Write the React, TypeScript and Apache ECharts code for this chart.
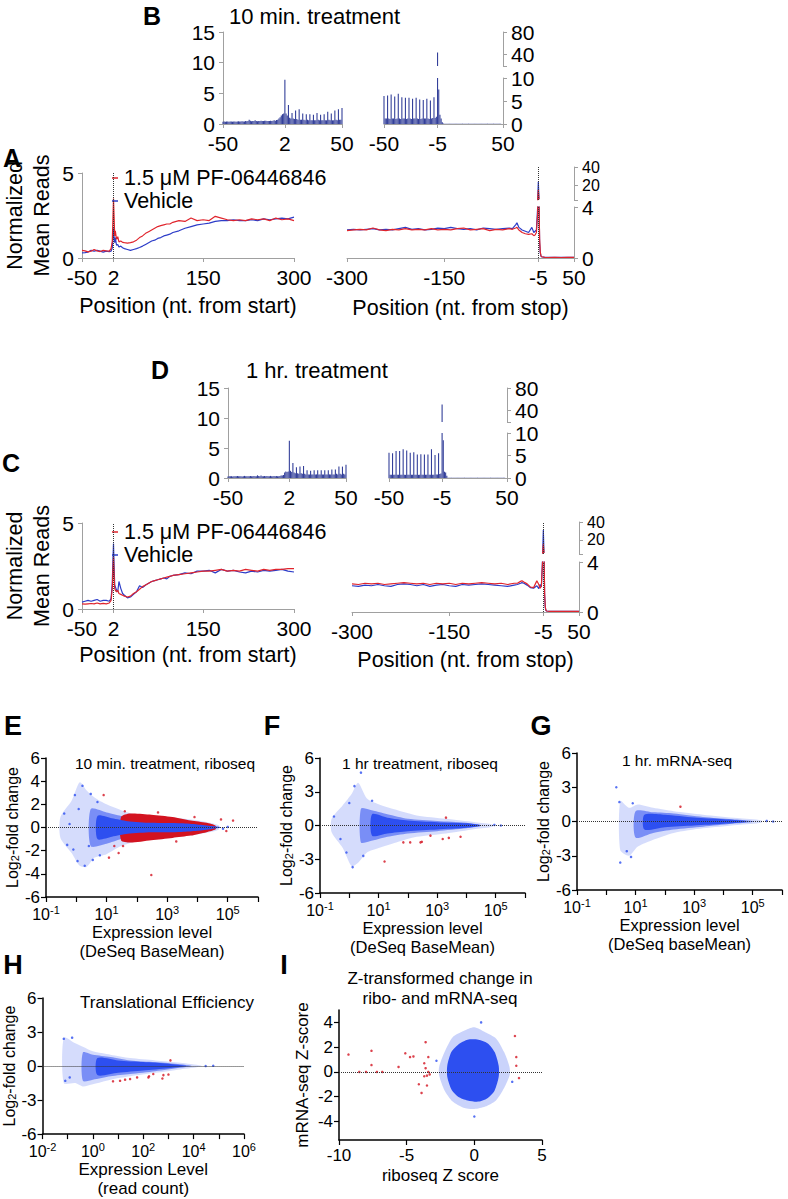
import React, { useEffect, useRef } from "react";
import * as echarts from "echarts";

const FONT = "'Liberation Sans', Arial, Helvetica, sans-serif";
const RED = "#e0242c";
const BLUE = "#2c3cc8";
const NAVY = "#34409a";
const SRED = "#d31320";
const SBLUE = "#2d4ff0";
const GRAY = "#a0a0a0";

// ---------- bar panels (B, D): positions -50..50 ----------
const barPos = Array.from({ length: 101 }, (_, i) => i - 50);
const b10Start = [
  0.35, 0.4, 0.38, 0.42, 0.4, 0.36, 0.4, 0.42, 0.38, 0.4,
  0.42, 0.38, 0.4, 0.44, 0.4, 0.42, 0.45, 0.4, 0.42, 0.5,
  0.45, 0.5, 0.7, 0.55, 0.45, 0.5, 0.48, 0.6, 0.5, 0.45,
  0.5, 0.48, 0.55, 0.5, 0.48, 0.52, 0.55, 0.5, 0.48, 0.5,
  0.52, 0.5, 0.55, 0.6, 0.55, 0.65, 0.7, 0.9, 1.1, 1.4,
  1.6, 1.7, 7.2, 1.7, 1.4, 3.1, 1.0, 0.9, 1.8, 0.9, 0.8, 2.2, 0.8, 0.7, 2.4, 0.7, 0.7,
  1.7, 0.7, 0.6, 1.6, 0.7, 0.6, 1.6, 0.6, 0.6, 1.5, 0.6, 0.6, 1.8, 0.7, 0.6, 1.5, 0.6, 0.6,
  1.6, 0.6, 0.6, 2.0, 0.7, 0.6, 1.7, 0.6, 0.6, 2.2, 0.7, 0.6, 2.4, 0.7, 0.7, 2.6,
];
const b10Stop = [
  6.1, 1.2, 1.2, 6.2, 1.2, 1.1, 6.4, 1.2, 1.2, 6.0, 1.1, 1.2, 6.6, 1.2, 1.1,
  5.8, 1.2, 1.2, 5.7, 1.1, 1.2, 5.7, 1.2, 1.1, 5.5, 1.2, 1.2, 5.7, 1.2, 1.1,
  5.3, 1.1, 1.2, 5.2, 1.2, 1.2, 5.5, 1.2, 1.1, 5.1, 1.2, 1.3, 5.8, 1.3, 1.6,
  44, 7.5, 2.0, 1.2, 0.4,
  0.1, 0.08, 0.07, 0.07, 0.08, 0.07, 0.07, 0.06, 0.07, 0.07, 0.08, 0.07, 0.07, 0.06, 0.07, 0.07, 0.07,
  0.08, 0.07, 0.07, 0.06, 0.07, 0.07, 0.07, 0.08, 0.07, 0.07, 0.06, 0.07, 0.07, 0.07, 0.08, 0.07,
  0.07, 0.06, 0.07, 0.07, 0.07, 0.08, 0.07, 0.07, 0.06, 0.07, 0.07, 0.07, 0.08, 0.07, 0.07, 0.07,
];
const d1Start = [
  0.25, 0.3, 0.28, 0.3, 0.25, 0.3, 0.28, 0.3, 0.32, 0.3,
  0.28, 0.3, 0.25, 0.3, 0.35, 0.3, 0.28, 0.3, 0.3, 0.35,
  0.3, 0.28, 0.35, 0.3, 0.3, 0.45, 0.35, 0.3, 0.4, 0.3,
  0.3, 0.35, 0.3, 0.32, 0.3, 0.28, 0.35, 0.3, 0.3, 0.32,
  0.3, 0.35, 0.3, 0.3, 0.35, 0.4, 0.4, 0.5, 0.9, 1.1,
  1.0, 1.1, 6.2, 1.2, 1.0, 2.5, 0.9, 0.8, 1.8, 0.8, 0.7, 1.9, 0.8, 0.7, 2.0, 0.7, 0.6,
  1.3, 0.6, 0.6, 1.2, 0.6, 0.6, 1.3, 0.6, 0.6, 1.3, 0.6, 0.6, 1.3, 0.6, 0.6, 1.3, 0.6, 0.6,
  1.3, 0.6, 0.6, 1.4, 0.6, 0.6, 1.4, 0.7, 0.6, 1.9, 0.7, 0.6, 1.9, 0.7, 0.6, 2.2,
];
const d1Stop = [
  5.6, 0.7, 0.7, 5.5, 0.7, 0.7, 6.0, 0.7, 0.7, 6.0, 0.7, 0.7, 6.4, 0.7, 0.7,
  6.1, 0.7, 0.7, 5.6, 0.7, 0.7, 5.7, 0.7, 0.7, 5.2, 0.7, 0.7, 5.3, 0.7, 0.7,
  5.2, 0.7, 0.7, 5.2, 0.7, 0.7, 6.4, 0.7, 0.7, 5.1, 0.8, 0.8, 5.5, 0.9, 1.0,
  51, 8.4, 1.4, 1.2, 0.5,
  0.08, 0.07, 0.07, 0.06, 0.07, 0.07, 0.07, 0.06, 0.07, 0.07, 0.07, 0.06, 0.07, 0.07, 0.07, 0.06, 0.07,
  0.07, 0.07, 0.06, 0.07, 0.07, 0.07, 0.06, 0.07, 0.07, 0.07, 0.06, 0.07, 0.07, 0.07, 0.06, 0.07,
  0.07, 0.07, 0.06, 0.07, 0.07, 0.07, 0.06, 0.07, 0.07, 0.07, 0.06, 0.07, 0.07, 0.07, 0.06, 0.07,
];

// ---------- metagene lines (A, C) ----------
const startPos = [-50, -45, -40, -35, -30, -25, -20, -15, -10, -5, -2, 0, 1, 2, 3, 4, 5, 7, 9, 11, 14, 17, 20,
  25, 30, 35, 40, 45, 50, 55, 60, 65, 70, 75, 80, 85, 90, 95, 100,
  110, 120, 130, 140, 150, 160, 170, 180, 190, 200, 210, 220, 230, 240, 250, 260, 270, 280, 290, 300];
const aRedStart = [0.45, 0.42, 0.36, 0.4, 0.5, 0.42, 0.38, 0.45, 0.42, 0.4, 0.55, 1.0, 2.2, 3.5, 2.4, 1.3, 1.6,
  1.1, 1.25, 0.95, 1.0, 0.92, 0.9,
  0.88, 0.9, 0.95, 1.05, 1.2, 1.3, 1.45, 1.55, 1.65, 1.75, 1.85, 1.9, 1.95, 2.0, 2.0, 2.1,
  2.2, 2.15, 2.35, 2.2, 2.25, 2.2, 2.45, 2.35, 2.25, 2.2, 2.25, 2.2, 2.3, 2.25, 2.3, 2.2, 2.35, 2.25, 2.3, 2.2];
const aBlueStart = [0.3, 0.32, 0.35, 0.45, 0.4, 0.45, 0.4, 0.35, 0.4, 0.38, 0.4, 0.6, 1.2, 1.75, 1.2, 0.9, 1.2,
  0.75, 0.8, 0.65, 0.7, 0.6, 0.55,
  0.5, 0.45, 0.5, 0.55, 0.62, 0.7, 0.8, 0.9, 1.0, 1.05, 1.15, 1.2, 1.3, 1.35, 1.4, 1.5,
  1.6, 1.75, 1.85, 1.95, 2.0, 2.05, 2.15, 2.2, 2.2, 2.25, 2.2, 2.2, 2.25, 2.2, 2.3, 2.25, 2.3, 2.35, 2.3, 2.4];
const cRedStart = [0.3, 0.28, 0.3, 0.32, 0.3, 0.35, 0.3, 0.33, 0.3, 0.35, 0.5, 1.2, 2.2, 3.0, 2.0, 1.2, 1.1,
  1.0, 1.1, 0.9, 0.85, 0.8, 0.75,
  0.7, 0.75, 0.9, 1.0, 1.15, 1.3, 1.4, 1.5, 1.6, 1.65, 1.7, 1.75, 1.8, 1.85, 1.9, 1.95,
  2.0, 2.05, 2.1, 2.15, 2.2, 2.2, 2.25, 2.3, 2.2, 2.25, 2.2, 2.3, 2.25, 2.2, 2.3, 2.25, 2.3, 2.3, 2.35, 2.35];
const cBlueStart = [0.4, 0.45, 0.5, 0.45, 0.5, 0.55, 0.45, 0.5, 0.5, 0.45, 0.6, 1.5, 2.8, 3.8, 2.5, 1.4, 1.3,
  1.1, 1.0, 1.6, 1.2, 0.9, 0.8,
  0.65, 0.7, 0.85, 1.0, 1.35, 1.25, 1.4, 1.5, 1.6, 1.65, 1.7, 1.75, 1.8, 1.75, 1.9, 1.95,
  2.0, 2.1, 2.05, 2.2, 2.2, 2.25, 2.1, 2.3, 2.2, 2.25, 2.15, 2.1, 2.2, 2.15, 2.25, 2.2, 2.25, 2.3, 2.2, 2.15];

const stopPos = [-300, -290, -280, -270, -260, -250, -240, -230, -220, -210, -200, -190, -180, -170, -160,
  -150, -140, -130, -120, -110, -100, -90, -80, -70, -60, -50,
  -45, -40, -38, -35, -30, -25, -20, -15, -12, -10, -8, -6, -5, -4, -3, -2, -1, 0,
  5, 10, 20, 30, 40, 50];
const aRedStop = [2.15, 2.2, 2.25, 2.2, 2.35, 2.2, 2.15, 2.25, 2.2, 2.3, 2.2, 2.25, 2.2, 2.3, 2.2, 2.25, 2.2,
  2.3, 2.35, 2.2, 2.25, 2.3, 2.15, 2.25, 2.2, 2.3,
  2.25, 2.35, 2.4, 2.2, 2.0, 1.9, 1.85, 1.9, 1.75, 1.8, 2.0, 3.5, 15, 4.5, 1.5, 0.5, 0.2, 0.1,
  0.05, 0.04, 0.05, 0.04, 0.05, 0.05];
const aBlueStop = [2.2, 2.25, 2.2, 2.25, 2.3, 2.2, 2.25, 2.2, 2.3, 2.4, 2.25, 2.3, 2.2, 2.25, 2.35, 2.3, 2.4,
  2.3, 2.25, 2.3, 2.2, 2.35, 2.3, 2.25, 2.3, 2.35,
  2.3, 2.6, 2.76, 2.4, 2.2, 2.1, 2.0, 2.4, 2.0, 2.1, 2.2, 4.0, 24, 5.0, 1.2, 0.4, 0.15, 0.1,
  0.05, 0.05, 0.05, 0.05, 0.05, 0.05];
const cRedStop = [2.25, 2.2, 2.3, 2.25, 2.3, 2.2, 2.25, 2.3, 2.35, 2.3, 2.25, 2.3, 2.2, 2.3, 2.25, 2.3, 2.2,
  2.3, 2.25, 2.3, 2.35, 2.3, 2.25, 2.3, 2.2, 2.3,
  2.3, 2.45, 2.5, 2.4, 2.25, 2.0, 1.95, 2.5, 2.2, 1.9, 2.1, 4.2, 15, 5, 1.5, 0.4, 0.15, 0.08,
  0.05, 0.05, 0.05, 0.05, 0.05, 0.05];
const cBlueStop = [2.1, 2.05, 2.15, 2.1, 2.2, 2.1, 2.05, 2.2, 2.25, 2.2, 2.1, 2.2, 2.05, 2.15, 2.2, 2.1, 2.05,
  2.2, 2.15, 2.2, 2.25, 2.2, 2.15, 2.1, 2.05, 2.15,
  2.2, 2.3, 2.35, 2.3, 2.15, 1.95, 1.9, 2.1, 1.87, 2.2, 2.0, 4.5, 31, 5.5, 1.4, 0.35, 0.12, 0.08,
  0.05, 0.05, 0.05, 0.05, 0.05, 0.05];

// ---------- MA-plot clouds: [x, lowEdge, highEdge] envelopes ----------
const eOuter = [[0.3, -0.9, 0.9], [0.7, -2.2, 2.3], [1.3, -3.3, 3.9], [2.2, -3.4, 3.2], [4, -2.6, 2.6], [10, -2.3, 2.0], [30, -1.6, 1.5], [100, -1.2, 1.1], [1000, -0.9, 0.9], [1e4, -0.6, 0.6], [5e4, -0.2, 0.2]];
const eMid = [[3, -1.6, 1.6], [10, -1.4, 1.3], [30, -1.0, 1.0], [100, -0.6, 0.6], [1000, -0.45, 0.45], [1e4, -0.3, 0.3], [3e4, -0.1, 0.1]];
const eRed = [[30, -1.1, 0.9], [60, -1.3, 1.2], [300, -1.1, 1.1], [1500, -0.9, 0.9], [6000, -0.7, 0.6], [2e4, -0.4, 0.4], [4e4, -0.15, 0.15]];
const eCore = [[5, -1.0, 1.0], [15, -0.8, 0.8], [50, -0.55, 0.55], [300, -0.42, 0.4], [3000, -0.38, 0.36], [1e4, -0.28, 0.26], [3e4, -0.12, 0.12], [6e4, -0.03, 0.03]];
const eRedPts = [[8, 2.8], [12, -2.6], [25, -2.2], [300, -4.1], [1.5e5, 0.6], [6e4, 0.7], [18, -1.6], [40, 1.4], [9e4, -0.3], [35, -1.6], [500, 1.3], [2000, -1.2], [8000, 0.9]];
const eBluePts = [[0.4, 1.2], [0.5, -1.5], [0.9, 2.8], [1.1, -2.9], [1.6, 3.6], [1.9, -3.3], [0.6, 0.3], [3, 2.9], [3.5, -2.8], [1e5, 0.05], [7e4, -0.1], [0.8, -1.9], [1.2, 1.6], [2.6, -1.6], [5, 2.2], [6, -2.4]];

const fOuter = [[0.25, -0.6, 0.6], [0.6, -2.0, 1.8], [1.2, -3.6, 2.8], [2, -3.3, 3.8], [4, -2.4, 2.4], [10, -2.0, 1.9], [40, -1.5, 1.4], [200, -1.0, 0.9], [2000, -0.7, 0.6], [2e4, -0.3, 0.3], [8e4, -0.1, 0.1]];
const fMid = [[2.5, -1.5, 1.5], [5, -1.4, 1.4], [20, -1.0, 1.0], [100, -0.7, 0.6], [1000, -0.5, 0.4], [1e4, -0.25, 0.25], [3e4, -0.05, 0.05]];
const fCore = [[6, -0.9, 1.0], [20, -0.7, 0.7], [100, -0.5, 0.45], [1000, -0.35, 0.3], [1e4, -0.2, 0.2], [3e4, -0.05, 0.05]];
const fRedPts = [[120, -1.5], [270, -1.5], [300, -1.45], [590, -0.9], [1550, -1.2], [2000, 0.7], [2500, -1.1], [6300, -1.0], [16, -3.2], [70, -1.5]];
const fBluePts = [[0.3, 0.8], [0.5, -1.2], [1.5, 3.5], [2.5, 4.7], [1.3, -3.7], [9e4, 0.05], [1.5e5, 0], [0.8, -2.4], [1, 2.0], [3, -2.7], [6, 2.2]];

const gOuter = [[3, -2.5, 1.8], [6, -3.0, 1.2], [12, -2.2, 1.5], [40, -1.6, 1.2], [200, -1.0, 0.9], [2000, -0.6, 0.6], [3e4, -0.3, 0.3], [2e5, -0.1, 0.1]];
const gMid = [[10, -1.4, 0.9], [40, -1.0, 0.8], [200, -0.7, 0.7], [2000, -0.45, 0.4], [2e4, -0.2, 0.2], [1e5, -0.05, 0.05]];
const gCore = [[20, -0.7, 0.6], [100, -0.5, 0.6], [1000, -0.35, 0.35], [1e4, -0.2, 0.2], [6e4, -0.05, 0.05]];
const gRedPts = [[340, 1.3]];
const gBluePts = [[2.2, 3.0], [2.8, 1.7], [3.0, -3.6], [5, -2.6], [3e5, 0.05], [5e5, 0], [7, -3.1], [8, 1.6]];

const hOuter = [[0.07, -1.5, 2.5], [0.2, -1.5, 2.0], [0.4, -1.8, 1.7], [1, -1.6, 1.3], [5, -1.2, 1.0], [30, -0.9, 0.7], [300, -0.6, 0.5], [3000, -0.3, 0.3], [2e4, -0.05, 0.05]];
const hMid = [[0.4, -1.3, 1.2], [1, -1.2, 1.0], [5, -0.9, 0.8], [30, -0.7, 0.5], [300, -0.45, 0.35], [3000, -0.15, 0.15], [8000, -0.02, 0.02]];
const hCore = [[1.5, -0.8, 0.7], [10, -0.6, 0.5], [100, -0.4, 0.35], [1000, -0.2, 0.2], [5000, -0.02, 0.02]];
const hRedPts = [[6.3, -1.35], [12, -1.3], [19, -1.2], [30, -1.15], [57, -1.0], [160, -1.0], [170, -0.9], [250, -0.7], [630, -0.8], [1000, -0.75], [1200, 0.5], [575, -1.1]];
const hBluePts = [[0.07, 2.4], [0.08, -1.3], [0.15, 2.5], [0.12, -1.0], [3e4, 0], [6e4, 0.02]];

const iOuter = [[-2.6, -0.3, 0.4], [-2.2, -1.5, 1.6], [-1.6, -2.4, 2.8], [-0.8, -2.9, 3.3], [0, -3.0, 3.6], [0.8, -2.8, 3.2], [1.6, -2.3, 2.7], [2.2, -1.3, 1.6], [2.6, -0.3, 0.4]];
const iCore = [[-2.0, -0.4, 0.5], [-1.7, -1.4, 1.6], [-1.2, -2.0, 2.2], [-0.5, -2.3, 2.6], [0.3, -2.4, 2.6], [1.0, -2.1, 2.3], [1.5, -1.5, 1.6], [1.8, -0.4, 0.5]];
const iRedPts = [[-9.3, 1.4], [-8.5, 0], [-8.0, 0], [-7.6, 1.7], [-7.6, 0.55], [-7.2, 0], [-6.8, 0], [-5.1, 1.5], [-4.75, 1.2], [-4.5, 1.25], [-5.6, 0.4],
  [-3.6, 2.4], [-3.7, 0.7], [-3.4, 1.2], [-3.6, 0.3], [-3.4, 0], [-3.5, -0.3], [-3.3, -0.2], [-3.7, -0.35], [-4.1, -1.0], [-3.5, -1.1], [-3.9, -1.7],
  [3.0, 2.9], [3.1, 1.2], [3.1, 0.5], [3.3, -0.5]];
const iBluePts = [[0.5, 4.0], [-2.8, 0.9], [2.8, -0.8], [0, -3.6]];
const iTicks = [-4, -2, 0, 2, 4];

// ---------- layout ----------
const grids = [
  { left: 223, top: 32, width: 119, height: 92 },   // 0 B start
  { left: 384, top: 78, width: 119, height: 46 },   // 1 B stop lower (0-10)
  { left: 384, top: 32, width: 119, height: 34 },   // 2 B stop upper (20-80)
  { left: 77, top: 173, width: 217, height: 85 },   // 3 A start
  { left: 347, top: 207, width: 227, height: 51 },  // 4 A stop lower
  { left: 347, top: 167, width: 227, height: 33 },  // 5 A stop upper
  { left: 228, top: 388, width: 118, height: 90 },  // 6 D start
  { left: 389, top: 433, width: 118, height: 45 },  // 7 D stop lower
  { left: 389, top: 388, width: 118, height: 34 },  // 8 D stop upper
  { left: 77, top: 523, width: 217, height: 86 },   // 9 C start
  { left: 352, top: 562, width: 227, height: 50 },  // 10 C stop lower
  { left: 352, top: 522, width: 227, height: 32 },  // 11 C stop upper
  { left: 46, top: 758, width: 212, height: 139 },  // 12 E
  { left: 320, top: 758, width: 205, height: 135 }, // 13 F
  { left: 577, top: 753, width: 205, height: 137 }, // 14 G
  { left: 42, top: 998, width: 202, height: 139 },  // 15 H
  { left: 339, top: 1010, width: 203, height: 130 },// 16 I
];

const txt = (fontSize: number) => ({ fontSize, fontFamily: FONT, color: "#000" });

function posX(gi: number, min: number, max: number, labels: number[], show = true) {
  return {
    type: "value", gridIndex: gi, min, max, show,
    axisLine: { show: true, onZero: false, lineStyle: { color: GRAY, width: 1 } },
    axisTick: { show: true, length: 4, customValues: labels, lineStyle: { color: GRAY } },
    axisLabel: { customValues: labels, interval: 0, margin: 9, hideOverlap: false, ...txt(21) },
    splitLine: { show: false },
  };
}
function grayY(gi: number, min: number, max: number, ticks: number[], labels: number[], position: string, extra: any = {}) {
  return {
    type: "value", gridIndex: gi, min, max, position,
    axisLine: { show: true, onZero: false, lineStyle: { color: GRAY, width: 1 } },
    axisTick: { show: true, length: 4, customValues: ticks, lineStyle: { color: GRAY } },
    axisLabel: { customValues: labels, interval: 0, margin: 8, hideOverlap: false, ...txt(21), ...extra },
    splitLine: { show: false },
  };
}
// extra label-only axis (second label of a tight broken-axis segment)
function labelOnlyY(gi: number, min: number, max: number, labels: number[]) {
  return {
    type: "value", gridIndex: gi, min, max, position: "right",
    axisLine: { show: false }, axisTick: { show: false }, splitLine: { show: false },
    axisLabel: { customValues: labels, interval: 0, margin: 8, showMinLabel: true, showMaxLabel: true, ...txt(16), lineHeight: 16, padding: [5, 0, 0, 0] },
  };
}
const blackLine = { show: true, onZero: false, lineStyle: { color: "#000", width: 1.5 } };
const blackTick = { show: true, length: 5, lineStyle: { color: "#000", width: 1.2 } };
function logX(gi: number, min: number, max: number, odd: boolean, name: string, nameSize: number) {
  return {
    type: "log", logBase: 10, gridIndex: gi, min, max, splitNumber: 8,
    axisLine: blackLine, axisTick: { ...blackTick, interval: 0 }, splitLine: { show: false },
    axisLabel: {
      interval: 0, margin: 7, hideOverlap: false,
      formatter: (v: number) => {
        const e = Math.round(Math.log10(v));
        const keep = odd ? Math.abs(e) % 2 === 1 : e % 2 === 0;
        return keep ? `{b|10}{s|${e}}` : "";
      },
      rich: { b: { ...txt(16) }, s: { ...txt(11), padding: [0, 0, 9, 0] } },
    },
    name, nameLocation: "middle", nameGap: 22,
    nameTextStyle: { ...txt(nameSize), lineHeight: nameSize + 2 },
  };
}
function logY(gi: number, interval: number) {
  return {
    type: "value", gridIndex: gi, min: -6, max: 6, interval,
    axisLine: blackLine, axisTick: blackTick, splitLine: { show: false },
    axisLabel: { margin: 6, hideOverlap: false, ...txt(17) },
    name: "Log{sub|2}-fold change", nameLocation: "middle", nameGap: 25, nameRotate: 90,
    nameTextStyle: { ...txt(16), rich: { sub: { ...txt(11), padding: [0, 0, -6, 0] } } },
  };
}

const xAxes: any[] = [
  posX(0, -50, 50, [-50, 2, 50]),
  posX(1, -50, 50, [-50, -5, 50]),
  posX(2, -50, 50, [], false),
  { ...posX(3, -50, 300, [-50, 2, 150, 300]), name: "Position (nt. from start)", nameLocation: "middle", nameGap: 37, nameTextStyle: txt(21.5) },
  { ...posX(4, -300, 50, [-300, -150, -5, 50]), name: "Position (nt. from stop)", nameLocation: "middle", nameGap: 39, nameTextStyle: txt(21.5) },
  posX(5, -300, 50, [], false),
  posX(6, -50, 50, [-50, 2, 50]),
  posX(7, -50, 50, [-50, -5, 50]),
  posX(8, -50, 50, [], false),
  { ...posX(9, -50, 300, [-50, 2, 150, 300]), name: "Position (nt. from start)", nameLocation: "middle", nameGap: 35, nameTextStyle: txt(21.5) },
  { ...posX(10, -300, 50, [-300, -150, -5, 50]), name: "Position (nt. from stop)", nameLocation: "middle", nameGap: 37, nameTextStyle: txt(21.5) },
  posX(11, -300, 50, [], false),
  logX(12, 0.1, 1e6, true, "Expression level\n(DeSeq BaseMean)", 16.5),
  logX(13, 0.1, 1e6, true, "Expression level\n(DeSeq BaseMean)", 16.5),
  logX(14, 0.1, 1e6, true, "Expression level\n(DeSeq baseMean)", 16.5),
  logX(15, 0.01, 1e6, false, "Expression Level\n(read count)", 17),
  {
    type: "value", gridIndex: 16, min: -10, max: 5, interval: 5,
    axisLine: blackLine, axisTick: blackTick, splitLine: { show: false },
    axisLabel: { margin: 7, hideOverlap: false, ...txt(17) },
    name: "riboseq Z score", nameLocation: "middle", nameGap: 27, nameTextStyle: txt(17),
  },
];

const upperTop = { fontSize: 16, lineHeight: 16, padding: [0, 0, 5, 0] };
const yAxes: any[] = [
  grayY(0, 0, 15, [0, 5, 10, 15], [0, 5, 10, 15], "left"),
  grayY(1, 0, 10, [0, 5, 10], [0, 5, 10], "right"),
  grayY(2, 20, 80, [20, 40, 80], [40, 80], "right"),
  {
    ...grayY(3, 0, 5, [0, 5], [0, 5], "left"),
    name: "Normalized\nMean Reads", nameLocation: "middle", nameGap: 27, nameRotate: 90,
    nameTextStyle: { ...txt(21.5), lineHeight: 27 },
  },
  grayY(4, 0, 4, [0, 4], [0, 4], "right"),
  grayY(5, 4, 40, [4, 20, 40], [40], "right", upperTop),
  grayY(6, 0, 15, [0, 5, 10, 15], [0, 5, 10, 15], "left"),
  grayY(7, 0, 10, [0, 5, 10], [0, 5, 10], "right"),
  grayY(8, 20, 80, [20, 40, 80], [40, 80], "right"),
  {
    ...grayY(9, 0, 5, [0, 5], [0, 5], "left"),
    name: "Normalized\nMean Reads", nameLocation: "middle", nameGap: 27, nameRotate: 90,
    nameTextStyle: { ...txt(21.5), lineHeight: 27 },
  },
  grayY(10, 0, 4, [0, 4], [0, 4], "right"),
  grayY(11, 4, 40, [4, 20, 40], [40], "right", upperTop),
  logY(12, 2),
  logY(13, 3),
  logY(14, 3),
  logY(15, 3),
  {
    type: "value", gridIndex: 16, min: -5.5, max: 5,
    axisLine: blackLine, axisTick: { ...blackTick, customValues: iTicks }, splitLine: { show: false },
    axisLabel: { margin: 6, interval: 0, hideOverlap: false, customValues: iTicks, ...txt(17) },
    name: "mRNA-seq Z-score", nameLocation: "middle", nameGap: 28, nameRotate: 90, nameTextStyle: txt(17),
  },
  labelOnlyY(5, 4, 40, [20]),   // 17
  labelOnlyY(11, 4, 40, [20]),  // 18
];

const RED_NAME = "1.5 \u03bcM PF-06446846";
const dotted = (axis: "xAxis" | "yAxis", v: number) => ({
  silent: true, symbol: ["none", "none"], label: { show: false },
  lineStyle: { type: "dotted", color: "#333", width: 1 },
  data: [{ [axis]: v }],
});

function bars(gi: number, vals: number[]) {
  return {
    type: "bar", xAxisIndex: gi, yAxisIndex: gi, silent: true, clip: true,
    barWidth: 1.1, itemStyle: { color: NAVY },
    data: barPos.map((p, i) => [p, vals[i]]),
  };
}
// upper (broken-axis) segments only need the points around the stop-codon peak
function line(gi: number, name: string, pos: number[], vals: number[], color: string, mark?: number, onlyPeak = false) {
  let data = pos.map((p, i) => [p, vals[i]]);
  if (onlyPeak) data = data.filter((d) => d[0] >= -6 && d[0] <= -4);
  const s: any = {
    type: "line", name, xAxisIndex: gi, yAxisIndex: gi, silent: true, clip: true,
    symbol: "none", lineStyle: { color, width: 1.2 }, itemStyle: { color }, data,
  };
  if (mark !== undefined) s.markLine = dotted("xAxis", mark);
  return s;
}
function band(gi: number, data: number[][], color: string, opacity: number, z = 2) {
  return {
    type: "custom", xAxisIndex: gi, yAxisIndex: gi, silent: true, clip: true, z,
    data, encode: { x: 0, y: [1, 2] },
    renderItem: (params: any, api: any) => {
      if (params.dataIndex !== 0) return null;
      const up = data.map((d) => api.coord([d[0], d[2]]));
      const lo = data.map((d) => api.coord([d[0], d[1]])).reverse();
      return { type: "polygon", shape: { points: up.concat(lo), smooth: 0.25 }, style: { fill: color, opacity } };
    },
  };
}
function pts(gi: number, data: number[][], color: string, z = 4, zero = false) {
  const s: any = {
    type: "scatter", xAxisIndex: gi, yAxisIndex: gi, silent: true, z,
    symbolSize: 2.5, itemStyle: { color }, data,
  };
  if (zero) s.markLine = dotted("yAxis", 0);
  return s;
}

const series: any[] = [
  bars(0, b10Start), bars(1, b10Stop), bars(2, b10Stop),
  bars(6, d1Start), bars(7, d1Stop), bars(8, d1Stop),
  line(3, "Vehicle", startPos, aBlueStart, BLUE),
  line(3, RED_NAME, startPos, aRedStart, RED, 2),
  line(4, "Vehicle", stopPos, aBlueStop, BLUE),
  line(4, RED_NAME, stopPos, aRedStop, RED, -5),
  line(5, "Vehicle", stopPos, aBlueStop, BLUE, undefined, true),
  line(5, RED_NAME, stopPos, aRedStop, RED, -5, true),
  line(9, "Vehicle", startPos, cBlueStart, BLUE),
  line(9, RED_NAME, startPos, cRedStart, RED, 2),
  line(10, "Vehicle", stopPos, cBlueStop, BLUE),
  line(10, RED_NAME, stopPos, cRedStop, RED, -5),
  line(11, "Vehicle", stopPos, cBlueStop, BLUE, undefined, true),
  line(11, RED_NAME, stopPos, cRedStop, RED, -5, true),
  // E
  pts(12, eBluePts, SBLUE, 1, true),
  band(12, eOuter, SBLUE, 0.2),
  band(12, eMid, SBLUE, 0.55),
  band(12, eRed, SRED, 1, 3),
  band(12, eCore, SBLUE, 1, 3),
  pts(12, eRedPts, SRED),
  // F
  pts(13, fBluePts, SBLUE, 1, true),
  band(13, fOuter, SBLUE, 0.2),
  band(13, fMid, SBLUE, 0.55),
  band(13, fCore, SBLUE, 1, 3),
  pts(13, fRedPts, SRED),
  // G
  pts(14, gBluePts, SBLUE, 1, true),
  band(14, gOuter, SBLUE, 0.2),
  band(14, gMid, SBLUE, 0.55),
  band(14, gCore, SBLUE, 1, 3),
  pts(14, gRedPts, SRED),
  // H
  pts(15, hBluePts, SBLUE, 1, true),
  band(15, hOuter, SBLUE, 0.2),
  band(15, hMid, SBLUE, 0.55),
  band(15, hCore, SBLUE, 1, 3),
  pts(15, hRedPts, SRED),
  // I
  pts(16, iBluePts, SBLUE, 1, true),
  band(16, iOuter, SBLUE, 0.25),
  band(16, iCore, SBLUE, 1, 3),
  pts(16, iRedPts, SRED),
];

const legendFor = (left: number, top: number) => ({
  left, top, orient: "vertical", icon: "rect", itemWidth: 6, itemHeight: 1.5, itemGap: 1,
  selectedMode: false, data: [RED_NAME, "Vehicle"], textStyle: { ...txt(21.5), padding: [0, 0, 0, 1] },
});

const T = (text: string, x: number, y: number, size: number, bold = false, align = "left") => ({
  type: "text", x, y, silent: true,
  style: { text, fontSize: size, fontWeight: bold ? "bold" : "normal", fontFamily: FONT, fill: "#000", align, verticalAlign: "middle" },
});

const graphics = [
  T("B", 152, 16, 25, true, "center"),
  T("10 min. treatment", 229, 16, 22),
  T("A", 12, 158, 25, true, "center"),
  T("D", 160, 370, 25, true, "center"),
  T("1 hr. treatment", 246, 370, 22),
  T("C", 11, 463, 25, true, "center"),
  T("E", 13, 726, 27, true, "center"),
  T("F", 272, 726, 27, true, "center"),
  T("G", 541, 726, 27, true, "center"),
  T("H", 13, 965, 27, true, "center"),
  T("I", 284, 965, 27, true, "center"),
  T("10 min. treatment, riboseq", 75, 763, 15.5),
  T("1 hr treatment, riboseq", 342, 763, 15.5),
  T("1 hr. mRNA-seq", 677, 760, 15.5, false, "center"),
  T("Translational Efficiency", 167, 1002, 17, false, "center"),
  T("Z-transformed change in", 440, 978, 17, false, "center"),
  T("ribo- and mRNA-seq", 440, 998, 17, false, "center"),
];

export default function App() {
  const ref = useRef<HTMLDivElement>(null);
  useEffect(() => {
    document.body.style.margin = "0";
    const chart = echarts.init(ref.current!, undefined, { renderer: "svg" });
    chart.setOption({
      animation: false,
      backgroundColor: "#fff",
      textStyle: { fontFamily: FONT },
      grid: grids.map((g) => ({ ...g, containLabel: false })),
      xAxis: xAxes,
      yAxis: yAxes,
      legend: [legendFor(107, 162), legendFor(107, 516)],
      graphic: graphics,
      series,
    });
    return () => chart.dispose();
  }, []);
  return <div ref={ref} style={{ position: "absolute", left: 0, top: 0, width: 788, height: 1199 }} />;
}
